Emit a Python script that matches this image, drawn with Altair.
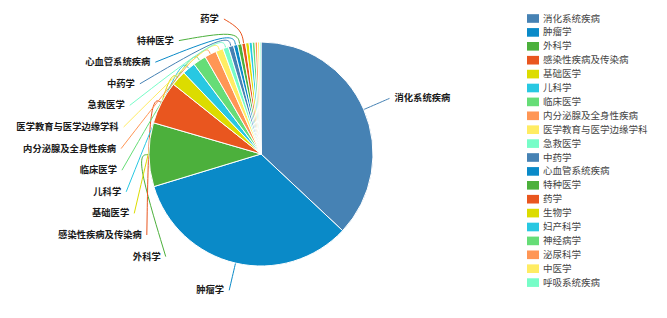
import math

import altair as alt
import pandas as pd

# Paper counts by subject area
categories = [
    "消化系统疾病", "肿瘤学", "外科学", "感染性疾病及传染病", "基础医学",
    "儿科学", "临床医学", "内分泌腺及全身性疾病", "医学教育与医学边缘学科", "急救医学",
    "中药学", "心血管系统疾病", "特种医学", "药学", "生物学",
    "妇产科学", "神经病学", "泌尿科学", "中医学", "呼吸系统疾病",
]
counts = [740, 666, 184, 124, 44, 38, 38, 34, 22, 16, 15, 12, 12, 11, 10, 9, 8, 7, 6, 4]

# Categories that carry an outside label
labeled = categories[:14]

palette = [
    "#4682b4", "#0a8ac8", "#4cb03c", "#e9561f", "#dcdc00",
    "#28c8e2", "#66dd77", "#ff9655", "#ffec63", "#77fdc8",
]
colors = [palette[i % len(palette)] for i in range(len(categories))]

W, H = 667, 318
CX, CY, R = 261, 154, 112
R_BEND = R + 14      # end of the radial part of each leader line
R_LABEL = 140        # circle on which leader lines end
GAP = 5              # space between line end and text
SPACING = 21.6       # minimum vertical distance between stacked labels
TOP = 19             # highest allowed label centre

total = sum(counts)

pie_df = pd.DataFrame({"category": categories, "value": counts, "idx": range(len(categories))})

# ---- label layout (derived from the slice angles) ----
rows = []
cum = 0
for c, v in zip(categories, counts):
    mid = 2 * math.pi * (cum + v / 2) / total
    cum += v
    if c not in labeled:
        continue
    rows.append({
        "category": c,
        "mid": mid,
        "side": "right" if math.sin(mid) > 0 else "left",
        "ny": CY - R_LABEL * math.cos(mid),
    })

for side in ("left", "right"):
    grp = sorted([r for r in rows if r["side"] == side], key=lambda r: r["ny"])
    prev = None
    for r in grp:
        y = max(r["ny"], TOP)
        if prev is not None:
            y = max(y, prev + SPACING)
        r["y"] = y
        prev = y
        dy = y - CY
        dx = math.sqrt(max(R_LABEL ** 2 - dy ** 2, 0))
        r["xe"] = CX - dx if side == "left" else CX + dx
        r["tx"] = r["xe"] - GAP if side == "left" else r["xe"] + GAP

label_df = pd.DataFrame([
    {"category": r["category"], "x": r["tx"], "y": r["y"], "side": r["side"]} for r in rows
])

line_rows = []
for r in rows:
    s, c = math.sin(r["mid"]), math.cos(r["mid"])
    pts = [
        (CX + R * s, CY - R * c),
        (CX + R_BEND * s, CY - R_BEND * c),
        (r["xe"], r["y"]),
    ]
    for k, (x, y) in enumerate(pts):
        line_rows.append({"category": r["category"], "seq": k, "x": x, "y": y})
line_df = pd.DataFrame(line_rows)

xs = alt.Scale(domain=[0, W], nice=False, zero=False)
ys = alt.Scale(domain=[H, 0], nice=False, zero=False)
color_scale = alt.Scale(domain=categories, range=colors)

legend = alt.Legend(
    title=None, orient="none", legendX=527, legendY=12.5,
    symbolType="M-1,-0.72L1,-0.72L1,0.72L-1,0.72Z", symbolSize=144,
    symbolStrokeWidth=0, labelFont="Noto Sans CJK SC", labelFontSize=9.5,
    labelColor="#444444", rowPadding=2.9, labelOffset=4, symbolLimit=0,
)
color_enc = alt.Color("category:N", scale=color_scale, sort=categories, legend=legend)

pie = alt.Chart(pie_df).mark_arc(
    radius=R, stroke="white", strokeWidth=1
).encode(
    theta=alt.Theta("value:Q", stack=True),
    order=alt.Order("idx:Q"),
    color=color_enc,
    x=alt.value(CX),
    y=alt.value(CY),
)

lines = alt.Chart(line_df).mark_line(interpolate="basis", strokeWidth=1).encode(
    x=alt.X("x:Q", scale=xs, axis=None),
    y=alt.Y("y:Q", scale=ys, axis=None),
    detail="category:N",
    order="seq:Q",
    color=color_enc,
)

text_style = dict(font="Noto Sans CJK SC", fontSize=9.3, fontWeight="bold",
                  color="#1a1a1a", baseline="middle")

left_text = alt.Chart(label_df).transform_filter(alt.datum.side == "left").mark_text(
    align="right", **text_style
).encode(
    x=alt.X("x:Q", scale=xs, axis=None),
    y=alt.Y("y:Q", scale=ys, axis=None),
    text="category:N",
)

right_text = alt.Chart(label_df).transform_filter(alt.datum.side == "right").mark_text(
    align="left", **text_style
).encode(
    x=alt.X("x:Q", scale=xs, axis=None),
    y=alt.Y("y:Q", scale=ys, axis=None),
    text="category:N",
)

chart = alt.layer(lines, pie, left_text, right_text).properties(
    width=W, height=H, padding=0, autosize=alt.AutoSizeParams(type="none"),
    background="white",
).configure_view(stroke=None)

chart.save("out.html", embed_options={"renderer": "svg", "actions": False})
